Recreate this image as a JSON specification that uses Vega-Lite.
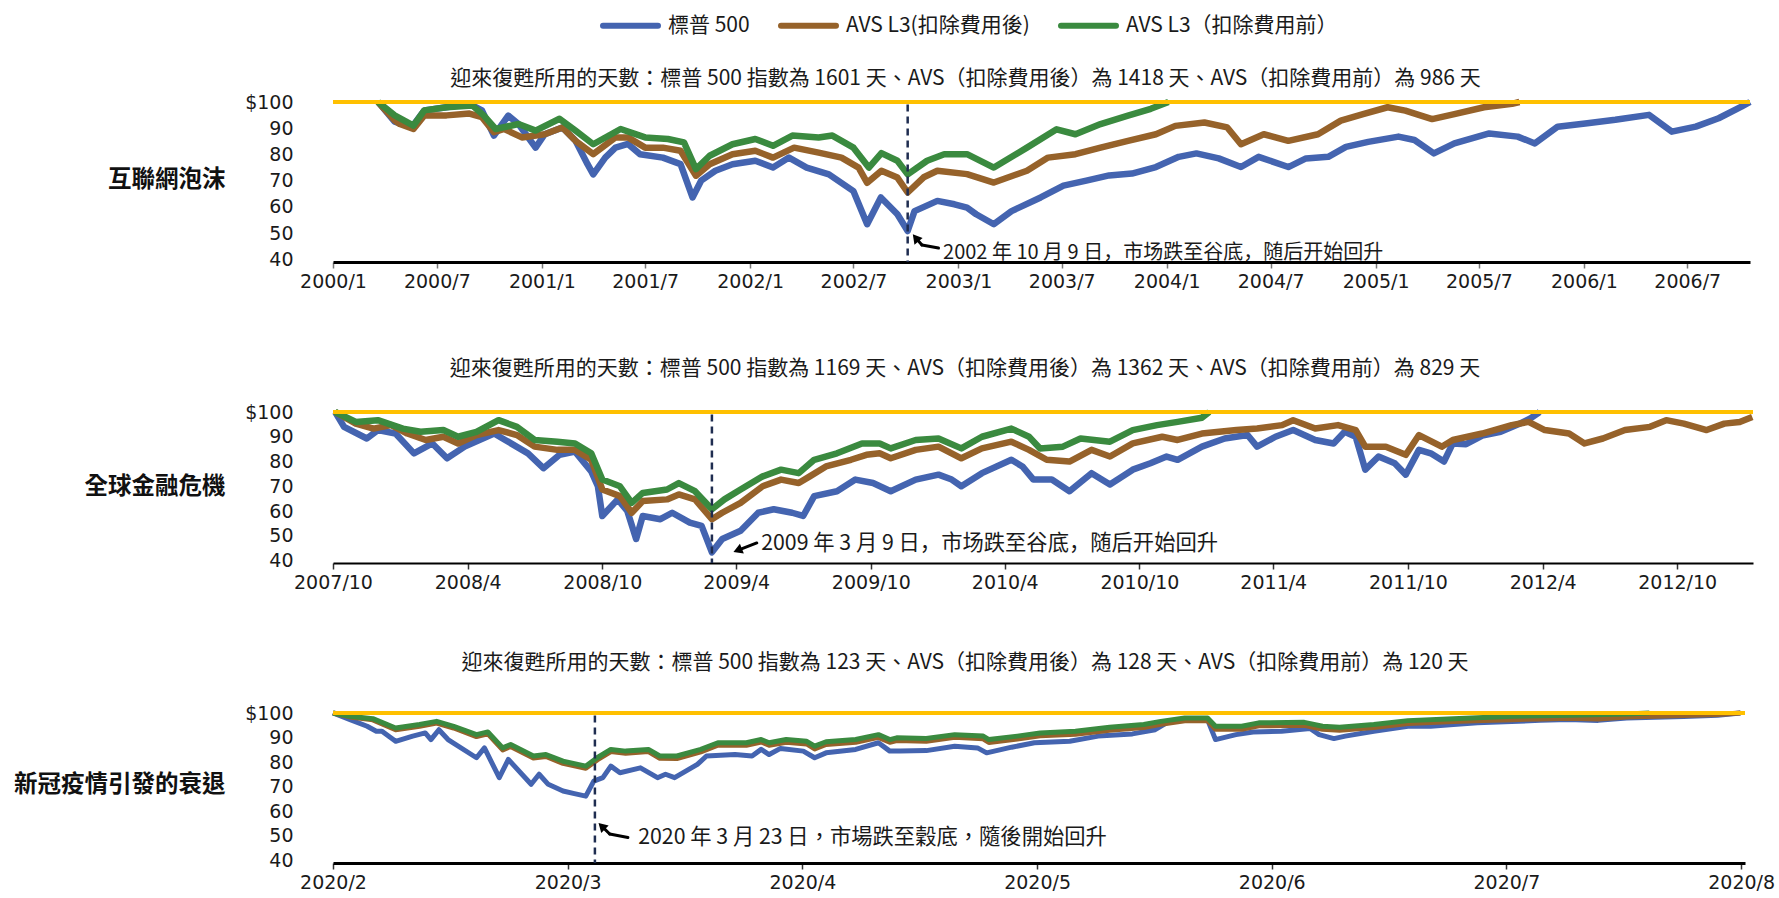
{
"$schema":"https://vega.github.io/schema/vega-lite/v6.json",
"background":"white",
"padding":{"left":13,"top":-5,"right":5,"bottom":5},
"bounds":"flush",
"spacing":150,
"config":{"view":{"stroke":null},"font":"Noto Sans CJK TC","axis":{"grid":false,"labelOverlap":false},"axisY":{"labelOverlap":false}},
"resolve":{"scale":{"color":"shared"},"legend":{"color":"shared"}},
"datasets":{
"one":[{}],
"p1_sp":[{"date":"2000-03-20","value":100},{"date":"2000-04-18","value":92.5},{"date":"2000-05-18","value":90.4},{"date":"2000-06-09","value":96.8},{"date":"2000-07-18","value":98.0},{"date":"2000-08-27","value":99.3},{"date":"2000-09-18","value":96.8},{"date":"2000-10-09","value":87.2},{"date":"2000-11-03","value":94.8},{"date":"2000-11-21","value":91.6},{"date":"2000-12-21","value":82.6},{"date":"2001-01-06","value":87.7},{"date":"2001-02-06","value":90.3},{"date":"2001-03-01","value":85.2},{"date":"2001-03-22","value":76.3},{"date":"2001-04-01","value":72.4},{"date":"2001-04-22","value":78.8},{"date":"2001-05-10","value":82.6},{"date":"2001-06-01","value":84.0},{"date":"2001-06-22","value":80.1},{"date":"2001-08-01","value":78.8},{"date":"2001-09-01","value":76.3},{"date":"2001-09-22","value":63.6},{"date":"2001-10-07","value":70.0},{"date":"2001-11-01","value":73.8},{"date":"2001-12-01","value":76.3},{"date":"2002-01-10","value":77.6},{"date":"2002-02-10","value":75.0},{"date":"2002-03-10","value":78.8},{"date":"2002-04-10","value":75.0},{"date":"2002-05-19","value":72.4},{"date":"2002-07-01","value":66.0},{"date":"2002-07-25","value":53.4},{"date":"2002-08-18","value":63.6},{"date":"2002-09-16","value":57.2},{"date":"2002-10-04","value":50.8},{"date":"2002-10-16","value":58.4},{"date":"2002-11-25","value":62.3},{"date":"2002-12-25","value":61.0},{"date":"2003-01-16","value":59.7},{"date":"2003-02-01","value":57.2},{"date":"2003-03-04","value":53.4},{"date":"2003-04-04","value":58.4},{"date":"2003-05-25","value":63.6},{"date":"2003-07-04","value":68.1},{"date":"2003-08-13","value":70.0},{"date":"2003-09-22","value":72.0},{"date":"2003-11-01","value":72.7},{"date":"2003-12-13","value":75.2},{"date":"2004-01-22","value":79.1},{"date":"2004-02-22","value":80.4},{"date":"2004-04-01","value":78.5},{"date":"2004-05-10","value":75.2},{"date":"2004-06-10","value":79.1},{"date":"2004-08-01","value":75.2},{"date":"2004-09-01","value":78.5},{"date":"2004-10-10","value":79.1},{"date":"2004-11-10","value":82.9},{"date":"2004-12-19","value":84.8},{"date":"2005-02-10","value":86.8},{"date":"2005-03-10","value":85.5},{"date":"2005-04-13","value":80.4},{"date":"2005-05-19","value":84.2},{"date":"2005-07-19","value":88.0},{"date":"2005-09-07","value":86.8},{"date":"2005-10-07","value":84.2},{"date":"2005-11-16","value":90.6},{"date":"2006-01-07","value":91.9},{"date":"2006-02-25","value":93.2},{"date":"2006-04-25","value":95.1},{"date":"2006-06-04","value":88.7},{"date":"2006-07-16","value":90.6},{"date":"2006-08-25","value":93.8},{"date":"2006-10-04","value":98.2},{"date":"2006-10-19","value":100}],
"p1_net":[{"date":"2000-03-20","value":100},{"date":"2000-04-18","value":93.0},{"date":"2000-04-27","value":91.6},{"date":"2000-05-21","value":89.7},{"date":"2000-06-09","value":94.9},{"date":"2000-07-18","value":94.9},{"date":"2000-08-27","value":95.6},{"date":"2000-09-18","value":94.2},{"date":"2000-10-09","value":88.5},{"date":"2000-10-27","value":89.7},{"date":"2000-11-27","value":86.5},{"date":"2001-01-06","value":87.7},{"date":"2001-02-06","value":90.3},{"date":"2001-03-01","value":85.2},{"date":"2001-04-01","value":80.1},{"date":"2001-05-10","value":86.5},{"date":"2001-06-01","value":86.5},{"date":"2001-07-01","value":82.6},{"date":"2001-08-01","value":82.6},{"date":"2001-09-01","value":81.4},{"date":"2001-09-28","value":71.9},{"date":"2001-10-22","value":76.3},{"date":"2001-12-01","value":80.1},{"date":"2002-01-10","value":81.4},{"date":"2002-02-10","value":78.8},{"date":"2002-03-19","value":82.6},{"date":"2002-05-01","value":80.7},{"date":"2002-06-10","value":78.8},{"date":"2002-07-10","value":75.0},{"date":"2002-07-25","value":69.2},{"date":"2002-08-19","value":73.8},{"date":"2002-09-16","value":71.2},{"date":"2002-10-04","value":65.5},{"date":"2002-11-01","value":71.3},{"date":"2002-11-25","value":73.8},{"date":"2003-01-16","value":72.5},{"date":"2003-03-04","value":69.3},{"date":"2003-05-01","value":73.8},{"date":"2003-06-07","value":78.8},{"date":"2003-07-25","value":80.1},{"date":"2003-09-07","value":82.6},{"date":"2003-10-25","value":85.2},{"date":"2003-12-13","value":87.7},{"date":"2004-01-16","value":90.9},{"date":"2004-03-07","value":92.2},{"date":"2004-04-16","value":90.3},{"date":"2004-05-10","value":83.9},{"date":"2004-06-19","value":87.7},{"date":"2004-08-01","value":85.2},{"date":"2004-09-22","value":87.7},{"date":"2004-11-01","value":92.9},{"date":"2004-12-10","value":95.4},{"date":"2005-01-22","value":98.0},{"date":"2005-02-22","value":96.7},{"date":"2005-04-10","value":93.5},{"date":"2005-05-19","value":95.4},{"date":"2005-07-10","value":98.0},{"date":"2005-08-28","value":99.3},{"date":"2005-09-10","value":100}],
"p1_gross":[{"date":"2000-03-20","value":100},{"date":"2000-04-18","value":94.9},{"date":"2000-05-21","value":91.0},{"date":"2000-06-09","value":96.8},{"date":"2000-07-18","value":98.0},{"date":"2000-09-01","value":98.7},{"date":"2000-09-21","value":94.9},{"date":"2000-10-12","value":89.7},{"date":"2000-11-21","value":91.6},{"date":"2000-12-21","value":89.1},{"date":"2001-02-01","value":93.6},{"date":"2001-03-01","value":89.1},{"date":"2001-04-01","value":83.9},{"date":"2001-05-19","value":89.7},{"date":"2001-07-01","value":86.5},{"date":"2001-08-10","value":85.9},{"date":"2001-09-07","value":84.6},{"date":"2001-09-28","value":74.4},{"date":"2001-10-22","value":79.5},{"date":"2001-12-01","value":83.9},{"date":"2002-01-10","value":85.9},{"date":"2002-02-10","value":83.3},{"date":"2002-03-16","value":87.2},{"date":"2002-05-01","value":86.5},{"date":"2002-05-25","value":87.2},{"date":"2002-07-01","value":82.6},{"date":"2002-07-28","value":75.0},{"date":"2002-08-19","value":80.5},{"date":"2002-09-16","value":77.6},{"date":"2002-10-04","value":72.4},{"date":"2002-11-07","value":77.6},{"date":"2002-12-07","value":80.1},{"date":"2003-01-16","value":80.1},{"date":"2003-03-04","value":75.0},{"date":"2003-05-01","value":82.6},{"date":"2003-06-22","value":89.6},{"date":"2003-07-25","value":87.7},{"date":"2003-09-07","value":91.6},{"date":"2003-10-25","value":94.8},{"date":"2003-12-04","value":97.4},{"date":"2004-01-04","value":100}],
"p2_sp":[{"date":"2007-10-04","value":100},{"date":"2007-10-16","value":94.0},{"date":"2007-11-16","value":89.3},{"date":"2007-12-01","value":92.7},{"date":"2007-12-25","value":91.3},{"date":"2008-01-19","value":83.3},{"date":"2008-02-13","value":87.3},{"date":"2008-03-04","value":81.3},{"date":"2008-03-28","value":86.0},{"date":"2008-05-07","value":91.3},{"date":"2008-05-22","value":88.7},{"date":"2008-06-22","value":83.3},{"date":"2008-07-13","value":77.3},{"date":"2008-08-04","value":82.7},{"date":"2008-08-25","value":84.0},{"date":"2008-09-16","value":76.0},{"date":"2008-09-25","value":70.0},{"date":"2008-10-01","value":58.0},{"date":"2008-10-22","value":64.7},{"date":"2008-11-04","value":60.0},{"date":"2008-11-16","value":48.7},{"date":"2008-11-25","value":58.0},{"date":"2008-12-19","value":56.7},{"date":"2009-01-04","value":59.3},{"date":"2009-01-28","value":55.3},{"date":"2009-02-13","value":54.0},{"date":"2009-02-27","value":43.3},{"date":"2009-03-13","value":48.7},{"date":"2009-04-07","value":52.0},{"date":"2009-05-01","value":59.3},{"date":"2009-05-22","value":60.7},{"date":"2009-06-16","value":59.3},{"date":"2009-07-01","value":58.0},{"date":"2009-07-16","value":66.0},{"date":"2009-08-16","value":68.0},{"date":"2009-09-10","value":72.7},{"date":"2009-10-04","value":71.3},{"date":"2009-10-28","value":68.0},{"date":"2009-12-01","value":72.7},{"date":"2010-01-01","value":74.7},{"date":"2010-01-19","value":72.7},{"date":"2010-02-01","value":70.0},{"date":"2010-03-01","value":75.3},{"date":"2010-04-10","value":80.7},{"date":"2010-04-25","value":78.0},{"date":"2010-05-10","value":72.7},{"date":"2010-06-04","value":72.7},{"date":"2010-06-28","value":68.0},{"date":"2010-07-28","value":75.3},{"date":"2010-08-22","value":70.7},{"date":"2010-09-22","value":76.7},{"date":"2010-10-16","value":79.3},{"date":"2010-11-07","value":82.0},{"date":"2010-11-22","value":80.7},{"date":"2010-12-25","value":86.0},{"date":"2011-01-25","value":89.3},{"date":"2011-02-25","value":90.7},{"date":"2011-03-10","value":86.0},{"date":"2011-04-04","value":90.0},{"date":"2011-04-28","value":92.7},{"date":"2011-05-28","value":88.7},{"date":"2011-06-22","value":87.3},{"date":"2011-07-07","value":92.0},{"date":"2011-07-22","value":90.0},{"date":"2011-08-04","value":76.7},{"date":"2011-08-22","value":82.0},{"date":"2011-09-13","value":79.3},{"date":"2011-09-28","value":74.7},{"date":"2011-10-16","value":84.7},{"date":"2011-11-01","value":83.3},{"date":"2011-11-19","value":80.0},{"date":"2011-12-01","value":87.3},{"date":"2011-12-19","value":87.0},{"date":"2012-01-10","value":90.5},{"date":"2012-02-04","value":92.0},{"date":"2012-02-28","value":95.0},{"date":"2012-03-16","value":97.5},{"date":"2012-03-28","value":100}],
"p2_net":[{"date":"2007-10-04","value":100},{"date":"2007-11-01","value":95.3},{"date":"2007-11-25","value":93.3},{"date":"2007-12-19","value":94.7},{"date":"2008-01-10","value":91.3},{"date":"2008-02-04","value":88.7},{"date":"2008-02-28","value":90.0},{"date":"2008-03-19","value":87.3},{"date":"2008-04-13","value":90.7},{"date":"2008-05-13","value":92.7},{"date":"2008-06-07","value":90.7},{"date":"2008-07-01","value":86.0},{"date":"2008-08-01","value":84.7},{"date":"2008-08-25","value":84.7},{"date":"2008-09-16","value":80.7},{"date":"2008-10-01","value":68.7},{"date":"2008-10-25","value":66.0},{"date":"2008-11-10","value":59.3},{"date":"2008-11-25","value":64.0},{"date":"2008-12-28","value":64.7},{"date":"2009-01-13","value":66.7},{"date":"2009-02-04","value":64.7},{"date":"2009-02-27","value":56.7},{"date":"2009-03-13","value":59.3},{"date":"2009-04-07","value":63.3},{"date":"2009-05-07","value":70.0},{"date":"2009-06-01","value":72.7},{"date":"2009-06-25","value":71.3},{"date":"2009-07-10","value":74.0},{"date":"2009-08-01","value":78.0},{"date":"2009-09-04","value":80.7},{"date":"2009-09-25","value":82.7},{"date":"2009-10-13","value":83.3},{"date":"2009-10-28","value":81.3},{"date":"2009-12-01","value":84.7},{"date":"2010-01-01","value":86.0},{"date":"2010-02-01","value":81.3},{"date":"2010-03-01","value":85.3},{"date":"2010-04-10","value":88.0},{"date":"2010-05-04","value":84.7},{"date":"2010-05-28","value":80.7},{"date":"2010-06-28","value":80.0},{"date":"2010-07-28","value":84.7},{"date":"2010-08-22","value":82.0},{"date":"2010-09-22","value":87.3},{"date":"2010-11-01","value":90.0},{"date":"2010-11-22","value":88.7},{"date":"2010-12-25","value":91.3},{"date":"2011-02-10","value":92.7},{"date":"2011-03-10","value":93.3},{"date":"2011-04-13","value":94.7},{"date":"2011-04-28","value":96.7},{"date":"2011-05-28","value":93.3},{"date":"2011-06-28","value":94.7},{"date":"2011-07-22","value":92.7},{"date":"2011-08-04","value":86.0},{"date":"2011-09-01","value":86.0},{"date":"2011-09-28","value":82.7},{"date":"2011-10-16","value":90.7},{"date":"2011-11-16","value":86.0},{"date":"2011-12-01","value":88.7},{"date":"2012-01-10","value":91.3},{"date":"2012-02-19","value":94.7},{"date":"2012-03-13","value":96.0},{"date":"2012-04-04","value":92.7},{"date":"2012-05-07","value":91.3},{"date":"2012-05-28","value":87.3},{"date":"2012-06-22","value":89.3},{"date":"2012-07-22","value":92.7},{"date":"2012-08-25","value":94.0},{"date":"2012-09-16","value":96.7},{"date":"2012-10-10","value":95.3},{"date":"2012-11-10","value":92.7},{"date":"2012-12-04","value":95.3},{"date":"2012-12-25","value":96.0},{"date":"2013-01-11","value":98.0}],
"p2_gross":[{"date":"2007-10-04","value":100},{"date":"2007-11-01","value":96.0},{"date":"2007-12-01","value":96.7},{"date":"2008-01-04","value":93.3},{"date":"2008-01-28","value":92.0},{"date":"2008-02-28","value":92.7},{"date":"2008-03-19","value":90.0},{"date":"2008-04-13","value":92.0},{"date":"2008-05-13","value":96.7},{"date":"2008-06-07","value":94.0},{"date":"2008-07-01","value":88.7},{"date":"2008-08-01","value":88.0},{"date":"2008-08-25","value":87.3},{"date":"2008-09-16","value":83.3},{"date":"2008-10-01","value":72.7},{"date":"2008-10-25","value":70.0},{"date":"2008-11-10","value":63.3},{"date":"2008-11-25","value":67.3},{"date":"2008-12-28","value":68.7},{"date":"2009-01-13","value":71.3},{"date":"2009-02-04","value":68.0},{"date":"2009-02-27","value":60.7},{"date":"2009-03-16","value":64.7},{"date":"2009-04-07","value":68.7},{"date":"2009-05-07","value":74.0},{"date":"2009-06-01","value":76.7},{"date":"2009-06-25","value":75.3},{"date":"2009-07-16","value":80.7},{"date":"2009-08-16","value":83.3},{"date":"2009-09-19","value":87.3},{"date":"2009-10-13","value":87.3},{"date":"2009-10-28","value":85.3},{"date":"2009-12-01","value":88.7},{"date":"2010-01-01","value":89.3},{"date":"2010-02-01","value":85.3},{"date":"2010-03-01","value":90.0},{"date":"2010-04-10","value":93.3},{"date":"2010-05-04","value":90.0},{"date":"2010-05-19","value":85.3},{"date":"2010-06-19","value":86.0},{"date":"2010-07-13","value":89.3},{"date":"2010-08-22","value":88.0},{"date":"2010-09-22","value":92.7},{"date":"2010-10-25","value":94.7},{"date":"2010-11-22","value":96.0},{"date":"2010-12-25","value":97.7},{"date":"2011-01-04","value":100}],
"p3_sp":[{"day":0,"value":100},{"day":1.5,"value":97.3},{"day":3.0,"value":94.6},{"day":3.8,"value":92.6},{"day":4.3,"value":92.6},{"day":5.5,"value":88.5},{"day":7.0,"value":90.6},{"day":8.1,"value":91.9},{"day":8.6,"value":89.2},{"day":9.3,"value":93.2},{"day":10.1,"value":89.2},{"day":12.6,"value":81.8},{"day":13.3,"value":85.8},{"day":14.6,"value":73.7},{"day":15.4,"value":81.1},{"day":17.4,"value":71.0},{"day":18.1,"value":75.1},{"day":18.9,"value":71.0},{"day":20.2,"value":68.3},{"day":21.2,"value":67.2},{"day":22.2,"value":66.2},{"day":22.9,"value":72.3},{"day":23.7,"value":73.7},{"day":24.4,"value":78.4},{"day":25.2,"value":75.7},{"day":27.0,"value":77.7},{"day":28.5,"value":73.7},{"day":29.2,"value":75.1},{"day":30.0,"value":73.7},{"day":32.0,"value":79.1},{"day":32.8,"value":82.5},{"day":35.3,"value":83.1},{"day":36.8,"value":82.5},{"day":37.6,"value":85.2},{"day":38.3,"value":83.1},{"day":39.3,"value":85.6},{"day":41.3,"value":84.5},{"day":42.3,"value":81.8},{"day":43.3,"value":83.8},{"day":45.9,"value":85.2},{"day":47.9,"value":87.9},{"day":48.9,"value":84.5},{"day":49.8,"value":84.5},{"day":52.1,"value":84.7},{"day":54.6,"value":86.5},{"day":56.6,"value":85.8},{"day":57.4,"value":83.8},{"day":59.6,"value":86.1},{"day":61.6,"value":87.9},{"day":64.7,"value":88.5},{"day":67.2,"value":90.6},{"day":70.2,"value":91.5},{"day":72.2,"value":93.2},{"day":73.2,"value":96.0},{"day":75.3,"value":97.7},{"day":76.8,"value":97.3},{"day":77.5,"value":89.2},{"day":79.3,"value":91.2},{"day":80.8,"value":92.3},{"day":83.3,"value":92.6},{"day":85.8,"value":93.7},{"day":86.6,"value":91.2},{"day":87.9,"value":89.6},{"day":88.9,"value":90.6},{"day":91.4,"value":92.6},{"day":94.4,"value":94.6},{"day":96.4,"value":94.6},{"day":98.4,"value":95.3},{"day":100.5,"value":96.0},{"day":103.5,"value":96.5},{"day":106.0,"value":97.0},{"day":108.5,"value":97.4},{"day":111.1,"value":97.0},{"day":113.6,"value":98.0},{"day":118.6,"value":98.6},{"day":121.6,"value":99.1},{"day":123.6,"value":100}],
"p3_net":[{"day":0,"value":100},{"day":1.5,"value":98.4},{"day":3.5,"value":97.2},{"day":5.5,"value":93.2},{"day":7.6,"value":94.6},{"day":9.1,"value":95.9},{"day":10.6,"value":93.9},{"day":12.6,"value":90.4},{"day":13.6,"value":91.5},{"day":14.9,"value":85.0},{"day":15.6,"value":86.4},{"day":17.6,"value":81.7},{"day":18.7,"value":82.3},{"day":20.2,"value":79.5},{"day":22.2,"value":77.5},{"day":23.2,"value":80.9},{"day":24.4,"value":84.3},{"day":25.7,"value":83.6},{"day":27.7,"value":84.3},{"day":28.7,"value":81.6},{"day":30.2,"value":81.5},{"day":32.3,"value":84.2},{"day":33.8,"value":86.9},{"day":36.3,"value":86.9},{"day":37.6,"value":88.2},{"day":38.3,"value":86.9},{"day":39.8,"value":88.1},{"day":41.6,"value":87.4},{"day":42.3,"value":85.4},{"day":43.3,"value":87.2},{"day":45.9,"value":88.1},{"day":47.9,"value":90.1},{"day":48.9,"value":88.1},{"day":49.5,"value":88.8},{"day":52.1,"value":88.5},{"day":54.6,"value":90.1},{"day":57.1,"value":89.5},{"day":57.6,"value":88.0},{"day":60.1,"value":89.4},{"day":62.1,"value":90.7},{"day":65.2,"value":91.4},{"day":68.2,"value":93.0},{"day":71.2,"value":94.1},{"day":72.7,"value":95.4},{"day":74.8,"value":96.8},{"day":76.8,"value":96.9},{"day":77.5,"value":93.4},{"day":79.8,"value":93.4},{"day":81.3,"value":94.8},{"day":85.3,"value":95.0},{"day":86.9,"value":93.4},{"day":88.4,"value":93.0},{"day":91.4,"value":94.1},{"day":94.4,"value":95.7},{"day":98.4,"value":96.5},{"day":101.0,"value":96.9},{"day":103.5,"value":97.3},{"day":106.0,"value":97.6},{"day":108.5,"value":97.9},{"day":111.1,"value":97.6},{"day":113.6,"value":98.4},{"day":118.6,"value":99.0},{"day":121.6,"value":99.4},{"day":123.6,"value":100}],
"p3_gross":[{"day":0,"value":100},{"day":1.5,"value":98.7},{"day":3.5,"value":97.7},{"day":5.5,"value":93.9},{"day":7.6,"value":95.3},{"day":9.1,"value":96.6},{"day":10.6,"value":94.6},{"day":12.6,"value":91.2},{"day":13.6,"value":92.3},{"day":14.9,"value":85.8},{"day":15.6,"value":87.2},{"day":17.6,"value":82.5},{"day":18.7,"value":83.1},{"day":20.2,"value":80.4},{"day":22.2,"value":78.4},{"day":23.2,"value":81.8},{"day":24.4,"value":85.2},{"day":25.7,"value":84.5},{"day":27.7,"value":85.2},{"day":28.7,"value":82.5},{"day":30.2,"value":82.5},{"day":32.3,"value":85.2},{"day":33.8,"value":87.9},{"day":36.3,"value":87.9},{"day":37.6,"value":89.2},{"day":38.3,"value":87.9},{"day":39.8,"value":89.2},{"day":41.6,"value":88.5},{"day":42.3,"value":86.5},{"day":43.3,"value":88.3},{"day":45.9,"value":89.2},{"day":47.9,"value":91.2},{"day":48.9,"value":89.2},{"day":49.5,"value":89.9},{"day":52.1,"value":89.6},{"day":54.6,"value":91.2},{"day":57.1,"value":90.6},{"day":57.6,"value":89.2},{"day":60.1,"value":90.6},{"day":62.1,"value":91.9},{"day":65.2,"value":92.6},{"day":68.2,"value":94.2},{"day":71.2,"value":95.3},{"day":72.7,"value":96.6},{"day":74.8,"value":98.0},{"day":76.8,"value":98.0},{"day":77.5,"value":94.6},{"day":79.8,"value":94.6},{"day":81.3,"value":96.0},{"day":85.3,"value":96.2},{"day":86.9,"value":94.6},{"day":88.4,"value":94.2},{"day":91.4,"value":95.3},{"day":94.4,"value":96.9},{"day":98.4,"value":97.7},{"day":101.0,"value":98.2},{"day":103.5,"value":98.7},{"day":108.5,"value":99.1},{"day":113.6,"value":99.6},{"day":115.6,"value":100}]
},
"vconcat":[
{"width":1417,"height":160,
"title":{"text":"迎來復甦所用的天數：標普 500 指數為 1601 天、AVS（扣除費用後）為 1418 天、AVS（扣除費用前）為 986 天","anchor":"middle","frame":"group","dx":-76,"offset":4,"fontSize":21,"fontWeight":"normal","font":"Noto Sans CJK TC","color":"#1a1a1a"},
"layer":[
{"data":{"name":"p1_sp"},"mark":{"type":"line","strokeWidth":6.5,"strokeJoin":"round"},
"encoding":{
"x":{"field":"date","type":"temporal","scale":{"domain":[{"year":2000,"month":1,"date":1},{"year":2006,"month":10,"date":19}]},
"axis":{"values":[{"year":2000,"month":1,"date":1},{"year":2000,"month":7,"date":1},{"year":2001,"month":1,"date":1},{"year":2001,"month":7,"date":1},{"year":2002,"month":1,"date":1},{"year":2002,"month":7,"date":1},{"year":2003,"month":1,"date":1},{"year":2003,"month":7,"date":1},{"year":2004,"month":1,"date":1},{"year":2004,"month":7,"date":1},{"year":2005,"month":1,"date":1},{"year":2005,"month":7,"date":1},{"year":2006,"month":1,"date":1},{"year":2006,"month":7,"date":1}],"format":"%Y/%-m","title":null,"domainColor":"#000","domainWidth":3,"tickColor":"#777","tickSize":6,"tickWidth":1.5,"labelPadding":4,"labelFlush":false,"labelOverlap":false,"labelFont":"DejaVu Sans","labelFontSize":19,"labelColor":"#1a1a1a"}},
"y":{"field":"value","type":"quantitative","scale":{"domain":[39,100],"nice":false,"zero":false},
"axis":{"values":[40,50,60,70,80,90,100],"tickCount":7,"labelExpr":"datum.value == 100 ? '$100' : datum.label","labelOverlap":false,"domain":false,"ticks":false,"grid":false,"labelPadding":40,"labelFont":"DejaVu Sans","labelFontSize":19,"labelColor":"#1a1a1a","title":"互聯網泡沫","titleAngle":0,"titleAlign":"right","titleBaseline":"middle","titleX":-108,"titleY":77,"titleFontSize":23.5,"titleFontWeight":"bold","titleFont":"Noto Sans CJK TC","titleColor":"#111"}},
"color":{"datum":"標普 500","scale":{"domain":["標普 500","AVS L3(扣除費用後)","AVS L3（扣除費用前）"],"range":["#4464b0","#96622a","#3a8a3f"]},
"legend":{"orient":"none","legendX":267,"legendY":-107,"direction":"horizontal","title":null,"symbolType":"stroke","symbolSize":3025,"symbolStrokeWidth":6,"labelFont":"Noto Sans CJK TC","labelFontSize":21,"labelColor":"#1a1a1a","labelOffset":7,"columnPadding":19,"labelLimit":400,"encode":{"symbols":{"update":{"strokeCap":{"value":"round"}}}}}}}},
{"data":{"name":"p1_net"},"mark":{"type":"line","strokeWidth":6.5,"strokeJoin":"round"},"encoding":{"x":{"field":"date","type":"temporal"},"y":{"field":"value","type":"quantitative","axis":{"values":[40,50,60,70,80,90,100],"tickCount":7,"labelExpr":"datum.value == 100 ? '$100' : datum.label","labelOverlap":false,"domain":false,"ticks":false,"grid":false,"labelPadding":40,"labelFont":"DejaVu Sans","labelFontSize":19,"labelColor":"#1a1a1a","title":"互聯網泡沫","titleAngle":0,"titleAlign":"right","titleBaseline":"middle","titleX":-108,"titleY":77,"titleFontSize":23.5,"titleFontWeight":"bold","titleFont":"Noto Sans CJK TC","titleColor":"#111"}},"color":{"datum":"AVS L3(扣除費用後)"}}},
{"data":{"name":"p1_gross"},"mark":{"type":"line","strokeWidth":6.5,"strokeJoin":"round"},"encoding":{"x":{"field":"date","type":"temporal"},"y":{"field":"value","type":"quantitative","axis":{"values":[40,50,60,70,80,90,100],"tickCount":7,"labelExpr":"datum.value == 100 ? '$100' : datum.label","labelOverlap":false,"domain":false,"ticks":false,"grid":false,"labelPadding":40,"labelFont":"DejaVu Sans","labelFontSize":19,"labelColor":"#1a1a1a","title":"互聯網泡沫","titleAngle":0,"titleAlign":"right","titleBaseline":"middle","titleX":-108,"titleY":77,"titleFontSize":23.5,"titleFontWeight":"bold","titleFont":"Noto Sans CJK TC","titleColor":"#111"}},"color":{"datum":"AVS L3（扣除費用前）"}}},
{"data":{"name":"one"},"mark":{"type":"rule","color":"#ffc000","strokeWidth":4},"encoding":{"y":{"datum":100,"type":"quantitative","axis":{"values":[40,50,60,70,80,90,100],"tickCount":7,"labelExpr":"datum.value == 100 ? '$100' : datum.label","labelOverlap":false,"domain":false,"ticks":false,"grid":false,"labelPadding":40,"labelFont":"DejaVu Sans","labelFontSize":19,"labelColor":"#1a1a1a","title":"互聯網泡沫","titleAngle":0,"titleAlign":"right","titleBaseline":"middle","titleX":-108,"titleY":77,"titleFontSize":23.5,"titleFontWeight":"bold","titleFont":"Noto Sans CJK TC","titleColor":"#111"}}}},
{"data":{"name":"one"},"mark":{"type":"rule","color":"#1f2d50","strokeWidth":2.5,"strokeDash":[7,5]},"encoding":{"x":{"datum":{"year":2002,"month":10,"date":4},"type":"temporal"},"y":{"datum":99,"type":"quantitative","axis":{"values":[40,50,60,70,80,90,100],"tickCount":7,"labelExpr":"datum.value == 100 ? '$100' : datum.label","labelOverlap":false,"domain":false,"ticks":false,"grid":false,"labelPadding":40,"labelFont":"DejaVu Sans","labelFontSize":19,"labelColor":"#1a1a1a","title":"互聯網泡沫","titleAngle":0,"titleAlign":"right","titleBaseline":"middle","titleX":-108,"titleY":77,"titleFontSize":23.5,"titleFontWeight":"bold","titleFont":"Noto Sans CJK TC","titleColor":"#111"}},"y2":{"datum":39}}},
{"data":{"name":"one"},"mark":{"type":"rule","color":"#000","strokeWidth":3,"strokeCap":"round"},"encoding":{"x":{"datum":{"year":2002,"month":11,"date":27},"type":"temporal"},"x2":{"datum":{"year":2002,"month":10,"date":29}},"y":{"datum":44.3,"type":"quantitative","axis":{"values":[40,50,60,70,80,90,100],"tickCount":7,"labelExpr":"datum.value == 100 ? '$100' : datum.label","labelOverlap":false,"domain":false,"ticks":false,"grid":false,"labelPadding":40,"labelFont":"DejaVu Sans","labelFontSize":19,"labelColor":"#1a1a1a","title":"互聯網泡沫","titleAngle":0,"titleAlign":"right","titleBaseline":"middle","titleX":-108,"titleY":77,"titleFontSize":23.5,"titleFontWeight":"bold","titleFont":"Noto Sans CJK TC","titleColor":"#111"}},"y2":{"datum":45.5}}},
{"data":{"name":"one"},"mark":{"type":"rule","color":"#000","strokeWidth":3,"strokeCap":"round"},"encoding":{"x":{"datum":{"year":2002,"month":10,"date":29},"type":"temporal"},"x2":{"datum":{"year":2002,"month":10,"date":18}},"y":{"datum":45.5,"type":"quantitative","axis":{"values":[40,50,60,70,80,90,100],"tickCount":7,"labelExpr":"datum.value == 100 ? '$100' : datum.label","labelOverlap":false,"domain":false,"ticks":false,"grid":false,"labelPadding":40,"labelFont":"DejaVu Sans","labelFontSize":19,"labelColor":"#1a1a1a","title":"互聯網泡沫","titleAngle":0,"titleAlign":"right","titleBaseline":"middle","titleX":-108,"titleY":77,"titleFontSize":23.5,"titleFontWeight":"bold","titleFont":"Noto Sans CJK TC","titleColor":"#111"}},"y2":{"datum":48.2}}},
{"data":{"name":"one"},"mark":{"type":"point","shape":"triangle-up","filled":true,"color":"#000","opacity":1,"size":110,"angle":-39},"encoding":{"x":{"datum":{"year":2002,"month":10,"date":18},"type":"temporal"},"y":{"datum":48.2,"type":"quantitative","axis":{"values":[40,50,60,70,80,90,100],"tickCount":7,"labelExpr":"datum.value == 100 ? '$100' : datum.label","labelOverlap":false,"domain":false,"ticks":false,"grid":false,"labelPadding":40,"labelFont":"DejaVu Sans","labelFontSize":19,"labelColor":"#1a1a1a","title":"互聯網泡沫","titleAngle":0,"titleAlign":"right","titleBaseline":"middle","titleX":-108,"titleY":77,"titleFontSize":23.5,"titleFontWeight":"bold","titleFont":"Noto Sans CJK TC","titleColor":"#111"}}}},
{"data":{"name":"one"},"mark":{"type":"text","align":"left","baseline":"middle","fontSize":20,"font":"Noto Sans CJK SC","color":"#1a1a1a"},"encoding":{"x":{"datum":{"year":2002,"month":12,"date":5},"type":"temporal"},"y":{"datum":42.5,"type":"quantitative","axis":{"values":[40,50,60,70,80,90,100],"tickCount":7,"labelExpr":"datum.value == 100 ? '$100' : datum.label","labelOverlap":false,"domain":false,"ticks":false,"grid":false,"labelPadding":40,"labelFont":"DejaVu Sans","labelFontSize":19,"labelColor":"#1a1a1a","title":"互聯網泡沫","titleAngle":0,"titleAlign":"right","titleBaseline":"middle","titleX":-108,"titleY":77,"titleFontSize":23.5,"titleFontWeight":"bold","titleFont":"Noto Sans CJK TC","titleColor":"#111"}},"text":{"value":"2002 年 10 月 9 日，市场跌至谷底，随后开始回升"}}}
]},
{"width":1420,"height":151,
"title":{"text":"迎來復甦所用的天數：標普 500 指數為 1169 天、AVS（扣除費用後）為 1362 天、AVS（扣除費用前）為 829 天","anchor":"middle","frame":"group","dx":-78,"offset":24,"fontSize":21,"fontWeight":"normal","font":"Noto Sans CJK TC","color":"#1a1a1a"},
"layer":[
{"data":{"name":"p2_sp"},"mark":{"type":"line","strokeWidth":6.5,"strokeJoin":"round"},
"encoding":{
"x":{"field":"date","type":"temporal","scale":{"domain":[{"year":2007,"month":10,"date":1},{"year":2013,"month":1,"date":12}]},
"axis":{"values":[{"year":2007,"month":10,"date":1},{"year":2008,"month":4,"date":1},{"year":2008,"month":10,"date":1},{"year":2009,"month":4,"date":1},{"year":2009,"month":10,"date":1},{"year":2010,"month":4,"date":1},{"year":2010,"month":10,"date":1},{"year":2011,"month":4,"date":1},{"year":2011,"month":10,"date":1},{"year":2012,"month":4,"date":1},{"year":2012,"month":10,"date":1}],"format":"%Y/%-m","title":null,"domainColor":"#000","domainWidth":2,"tickColor":"#333","tickSize":6,"tickWidth":1.5,"labelPadding":4,"labelFlush":false,"labelOverlap":false,"labelFont":"DejaVu Sans","labelFontSize":19,"labelColor":"#1a1a1a"}},
"y":{"field":"value","type":"quantitative","scale":{"domain":[39,100],"nice":false,"zero":false},
"axis":{"values":[40,50,60,70,80,90,100],"tickCount":7,"labelExpr":"datum.value == 100 ? '$100' : datum.label","labelOverlap":false,"domain":false,"ticks":false,"grid":false,"labelPadding":40,"labelFont":"DejaVu Sans","labelFontSize":19,"labelColor":"#1a1a1a","title":"全球金融危機","titleAngle":0,"titleAlign":"right","titleBaseline":"middle","titleX":-108,"titleY":74,"titleFontSize":23.5,"titleFontWeight":"bold","titleFont":"Noto Sans CJK TC","titleColor":"#111"}},
"color":{"datum":"標普 500"}}},
{"data":{"name":"p2_net"},"mark":{"type":"line","strokeWidth":6.5,"strokeJoin":"round"},"encoding":{"x":{"field":"date","type":"temporal"},"y":{"field":"value","type":"quantitative","axis":{"values":[40,50,60,70,80,90,100],"tickCount":7,"labelExpr":"datum.value == 100 ? '$100' : datum.label","labelOverlap":false,"domain":false,"ticks":false,"grid":false,"labelPadding":40,"labelFont":"DejaVu Sans","labelFontSize":19,"labelColor":"#1a1a1a","title":"全球金融危機","titleAngle":0,"titleAlign":"right","titleBaseline":"middle","titleX":-108,"titleY":74,"titleFontSize":23.5,"titleFontWeight":"bold","titleFont":"Noto Sans CJK TC","titleColor":"#111"}},"color":{"datum":"AVS L3(扣除費用後)"}}},
{"data":{"name":"p2_gross"},"mark":{"type":"line","strokeWidth":6.5,"strokeJoin":"round"},"encoding":{"x":{"field":"date","type":"temporal"},"y":{"field":"value","type":"quantitative","axis":{"values":[40,50,60,70,80,90,100],"tickCount":7,"labelExpr":"datum.value == 100 ? '$100' : datum.label","labelOverlap":false,"domain":false,"ticks":false,"grid":false,"labelPadding":40,"labelFont":"DejaVu Sans","labelFontSize":19,"labelColor":"#1a1a1a","title":"全球金融危機","titleAngle":0,"titleAlign":"right","titleBaseline":"middle","titleX":-108,"titleY":74,"titleFontSize":23.5,"titleFontWeight":"bold","titleFont":"Noto Sans CJK TC","titleColor":"#111"}},"color":{"datum":"AVS L3（扣除費用前）"}}},
{"data":{"name":"one"},"mark":{"type":"rule","color":"#ffc000","strokeWidth":4},"encoding":{"y":{"datum":100,"type":"quantitative","axis":{"values":[40,50,60,70,80,90,100],"tickCount":7,"labelExpr":"datum.value == 100 ? '$100' : datum.label","labelOverlap":false,"domain":false,"ticks":false,"grid":false,"labelPadding":40,"labelFont":"DejaVu Sans","labelFontSize":19,"labelColor":"#1a1a1a","title":"全球金融危機","titleAngle":0,"titleAlign":"right","titleBaseline":"middle","titleX":-108,"titleY":74,"titleFontSize":23.5,"titleFontWeight":"bold","titleFont":"Noto Sans CJK TC","titleColor":"#111"}}}},
{"data":{"name":"one"},"mark":{"type":"rule","color":"#1f2d50","strokeWidth":2.5,"strokeDash":[7,5]},"encoding":{"x":{"datum":{"year":2009,"month":2,"date":27},"type":"temporal"},"y":{"datum":99,"type":"quantitative","axis":{"values":[40,50,60,70,80,90,100],"tickCount":7,"labelExpr":"datum.value == 100 ? '$100' : datum.label","labelOverlap":false,"domain":false,"ticks":false,"grid":false,"labelPadding":40,"labelFont":"DejaVu Sans","labelFontSize":19,"labelColor":"#1a1a1a","title":"全球金融危機","titleAngle":0,"titleAlign":"right","titleBaseline":"middle","titleX":-108,"titleY":74,"titleFontSize":23.5,"titleFontWeight":"bold","titleFont":"Noto Sans CJK TC","titleColor":"#111"}},"y2":{"datum":39}}},
{"data":{"name":"one"},"mark":{"type":"rule","color":"#000","strokeWidth":3,"strokeCap":"round"},"encoding":{"x":{"datum":{"year":2009,"month":4,"date":29},"type":"temporal"},"x2":{"datum":{"year":2009,"month":4,"date":3}},"y":{"datum":47.1,"type":"quantitative","axis":{"values":[40,50,60,70,80,90,100],"tickCount":7,"labelExpr":"datum.value == 100 ? '$100' : datum.label","labelOverlap":false,"domain":false,"ticks":false,"grid":false,"labelPadding":40,"labelFont":"DejaVu Sans","labelFontSize":19,"labelColor":"#1a1a1a","title":"全球金融危機","titleAngle":0,"titleAlign":"right","titleBaseline":"middle","titleX":-108,"titleY":74,"titleFontSize":23.5,"titleFontWeight":"bold","titleFont":"Noto Sans CJK TC","titleColor":"#111"}},"y2":{"datum":44.1}}},
{"data":{"name":"one"},"mark":{"type":"point","shape":"triangle-up","filled":true,"color":"#000","opacity":1,"size":110,"angle":-112},"encoding":{"x":{"datum":{"year":2009,"month":4,"date":3},"type":"temporal"},"y":{"datum":44.1,"type":"quantitative","axis":{"values":[40,50,60,70,80,90,100],"tickCount":7,"labelExpr":"datum.value == 100 ? '$100' : datum.label","labelOverlap":false,"domain":false,"ticks":false,"grid":false,"labelPadding":40,"labelFont":"DejaVu Sans","labelFontSize":19,"labelColor":"#1a1a1a","title":"全球金融危機","titleAngle":0,"titleAlign":"right","titleBaseline":"middle","titleX":-108,"titleY":74,"titleFontSize":23.5,"titleFontWeight":"bold","titleFont":"Noto Sans CJK TC","titleColor":"#111"}}}},
{"data":{"name":"one"},"mark":{"type":"text","align":"left","baseline":"middle","fontSize":21.3,"font":"Noto Sans CJK SC","color":"#1a1a1a"},"encoding":{"x":{"datum":{"year":2009,"month":5,"date":5},"type":"temporal"},"y":{"datum":46.7,"type":"quantitative","axis":{"values":[40,50,60,70,80,90,100],"tickCount":7,"labelExpr":"datum.value == 100 ? '$100' : datum.label","labelOverlap":false,"domain":false,"ticks":false,"grid":false,"labelPadding":40,"labelFont":"DejaVu Sans","labelFontSize":19,"labelColor":"#1a1a1a","title":"全球金融危機","titleAngle":0,"titleAlign":"right","titleBaseline":"middle","titleX":-108,"titleY":74,"titleFontSize":23.5,"titleFontWeight":"bold","titleFont":"Noto Sans CJK TC","titleColor":"#111"}},"text":{"value":"2009 年 3 月 9 日，市场跌至谷底，随后开始回升"}}}
]},
{"width":1412,"height":150,
"title":{"text":"迎來復甦所用的天數：標普 500 指數為 123 天、AVS（扣除費用後）為 128 天、AVS（扣除費用前）為 120 天","anchor":"middle","frame":"group","dx":-74,"offset":31,"fontSize":21,"fontWeight":"normal","font":"Noto Sans CJK TC","color":"#1a1a1a"},
"layer":[
{"data":{"name":"p3_sp"},"mark":{"type":"line","strokeWidth":5,"strokeJoin":"round"},
"encoding":{
"x":{"field":"day","type":"quantitative","scale":{"domain":[0,124],"nice":false,"zero":false},
"axis":{"values":[0,20.61,41.22,61.83,82.44,103.05,123.66],"labelExpr":"'2020/' + (2 + round(datum.value / 20.61))","title":null,"domainColor":"#000","domainWidth":3,"tickColor":"#333","tickSize":6,"tickWidth":1.5,"labelPadding":4,"labelFlush":false,"labelOverlap":false,"labelFont":"DejaVu Sans","labelFontSize":19,"labelColor":"#1a1a1a"}},
"y":{"field":"value","type":"quantitative","scale":{"domain":[39,100],"nice":false,"zero":false},
"axis":{"values":[40,50,60,70,80,90,100],"tickCount":7,"labelExpr":"datum.value == 100 ? '$100' : datum.label","labelOverlap":false,"domain":false,"ticks":false,"grid":false,"labelPadding":40,"labelFont":"DejaVu Sans","labelFontSize":19,"labelColor":"#1a1a1a","title":"新冠疫情引發的衰退","titleAngle":0,"titleAlign":"right","titleBaseline":"middle","titleX":-108,"titleY":71,"titleFontSize":23.5,"titleFontWeight":"bold","titleFont":"Noto Sans CJK TC","titleColor":"#111"}},
"color":{"datum":"標普 500"}}},
{"data":{"name":"p3_net"},"mark":{"type":"line","strokeWidth":5,"strokeJoin":"round"},"encoding":{"x":{"field":"day","type":"quantitative"},"y":{"field":"value","type":"quantitative","axis":{"values":[40,50,60,70,80,90,100],"tickCount":7,"labelExpr":"datum.value == 100 ? '$100' : datum.label","labelOverlap":false,"domain":false,"ticks":false,"grid":false,"labelPadding":40,"labelFont":"DejaVu Sans","labelFontSize":19,"labelColor":"#1a1a1a","title":"新冠疫情引發的衰退","titleAngle":0,"titleAlign":"right","titleBaseline":"middle","titleX":-108,"titleY":71,"titleFontSize":23.5,"titleFontWeight":"bold","titleFont":"Noto Sans CJK TC","titleColor":"#111"}},"color":{"datum":"AVS L3(扣除費用後)"}}},
{"data":{"name":"p3_gross"},"mark":{"type":"line","strokeWidth":5,"strokeJoin":"round"},"encoding":{"x":{"field":"day","type":"quantitative"},"y":{"field":"value","type":"quantitative","axis":{"values":[40,50,60,70,80,90,100],"tickCount":7,"labelExpr":"datum.value == 100 ? '$100' : datum.label","labelOverlap":false,"domain":false,"ticks":false,"grid":false,"labelPadding":40,"labelFont":"DejaVu Sans","labelFontSize":19,"labelColor":"#1a1a1a","title":"新冠疫情引發的衰退","titleAngle":0,"titleAlign":"right","titleBaseline":"middle","titleX":-108,"titleY":71,"titleFontSize":23.5,"titleFontWeight":"bold","titleFont":"Noto Sans CJK TC","titleColor":"#111"}},"color":{"datum":"AVS L3（扣除費用前）"}}},
{"data":{"name":"one"},"mark":{"type":"rule","color":"#ffc000","strokeWidth":4},"encoding":{"y":{"datum":100,"type":"quantitative","axis":{"values":[40,50,60,70,80,90,100],"tickCount":7,"labelExpr":"datum.value == 100 ? '$100' : datum.label","labelOverlap":false,"domain":false,"ticks":false,"grid":false,"labelPadding":40,"labelFont":"DejaVu Sans","labelFontSize":19,"labelColor":"#1a1a1a","title":"新冠疫情引發的衰退","titleAngle":0,"titleAlign":"right","titleBaseline":"middle","titleX":-108,"titleY":71,"titleFontSize":23.5,"titleFontWeight":"bold","titleFont":"Noto Sans CJK TC","titleColor":"#111"}}}},
{"data":{"name":"one"},"mark":{"type":"rule","color":"#1f2d50","strokeWidth":2.5,"strokeDash":[7,5]},"encoding":{"x":{"datum":23,"type":"quantitative"},"y":{"datum":99,"type":"quantitative","axis":{"values":[40,50,60,70,80,90,100],"tickCount":7,"labelExpr":"datum.value == 100 ? '$100' : datum.label","labelOverlap":false,"domain":false,"ticks":false,"grid":false,"labelPadding":40,"labelFont":"DejaVu Sans","labelFontSize":19,"labelColor":"#1a1a1a","title":"新冠疫情引發的衰退","titleAngle":0,"titleAlign":"right","titleBaseline":"middle","titleX":-108,"titleY":71,"titleFontSize":23.5,"titleFontWeight":"bold","titleFont":"Noto Sans CJK TC","titleColor":"#111"}},"y2":{"datum":39}}},
{"data":{"name":"one"},"mark":{"type":"rule","color":"#000","strokeWidth":3,"strokeCap":"round"},"encoding":{"x":{"datum":25.9,"type":"quantitative"},"x2":{"datum":24.3},"y":{"datum":49.4,"type":"quantitative","axis":{"values":[40,50,60,70,80,90,100],"tickCount":7,"labelExpr":"datum.value == 100 ? '$100' : datum.label","labelOverlap":false,"domain":false,"ticks":false,"grid":false,"labelPadding":40,"labelFont":"DejaVu Sans","labelFontSize":19,"labelColor":"#1a1a1a","title":"新冠疫情引發的衰退","titleAngle":0,"titleAlign":"right","titleBaseline":"middle","titleX":-108,"titleY":71,"titleFontSize":23.5,"titleFontWeight":"bold","titleFont":"Noto Sans CJK TC","titleColor":"#111"}},"y2":{"datum":50.8}}},
{"data":{"name":"one"},"mark":{"type":"rule","color":"#000","strokeWidth":3,"strokeCap":"round"},"encoding":{"x":{"datum":24.3,"type":"quantitative"},"x2":{"datum":23.6},"y":{"datum":50.8,"type":"quantitative","axis":{"values":[40,50,60,70,80,90,100],"tickCount":7,"labelExpr":"datum.value == 100 ? '$100' : datum.label","labelOverlap":false,"domain":false,"ticks":false,"grid":false,"labelPadding":40,"labelFont":"DejaVu Sans","labelFontSize":19,"labelColor":"#1a1a1a","title":"新冠疫情引發的衰退","titleAngle":0,"titleAlign":"right","titleBaseline":"middle","titleX":-108,"titleY":71,"titleFontSize":23.5,"titleFontWeight":"bold","titleFont":"Noto Sans CJK TC","titleColor":"#111"}},"y2":{"datum":54.0}}},
{"data":{"name":"one"},"mark":{"type":"point","shape":"triangle-up","filled":true,"color":"#000","opacity":1,"size":110,"angle":-45},"encoding":{"x":{"datum":23.6,"type":"quantitative"},"y":{"datum":54.0,"type":"quantitative","axis":{"values":[40,50,60,70,80,90,100],"tickCount":7,"labelExpr":"datum.value == 100 ? '$100' : datum.label","labelOverlap":false,"domain":false,"ticks":false,"grid":false,"labelPadding":40,"labelFont":"DejaVu Sans","labelFontSize":19,"labelColor":"#1a1a1a","title":"新冠疫情引發的衰退","titleAngle":0,"titleAlign":"right","titleBaseline":"middle","titleX":-108,"titleY":71,"titleFontSize":23.5,"titleFontWeight":"bold","titleFont":"Noto Sans CJK TC","titleColor":"#111"}}}},
{"data":{"name":"one"},"mark":{"type":"text","align":"left","baseline":"middle","fontSize":21.3,"font":"Noto Sans CJK TC","color":"#1a1a1a"},"encoding":{"x":{"datum":26.8,"type":"quantitative"},"y":{"datum":49.1,"type":"quantitative","axis":{"values":[40,50,60,70,80,90,100],"tickCount":7,"labelExpr":"datum.value == 100 ? '$100' : datum.label","labelOverlap":false,"domain":false,"ticks":false,"grid":false,"labelPadding":40,"labelFont":"DejaVu Sans","labelFontSize":19,"labelColor":"#1a1a1a","title":"新冠疫情引發的衰退","titleAngle":0,"titleAlign":"right","titleBaseline":"middle","titleX":-108,"titleY":71,"titleFontSize":23.5,"titleFontWeight":"bold","titleFont":"Noto Sans CJK TC","titleColor":"#111"}},"text":{"value":"2020 年 3 月 23 日，市場跌至穀底，隨後開始回升"}}}
]}
]
}
